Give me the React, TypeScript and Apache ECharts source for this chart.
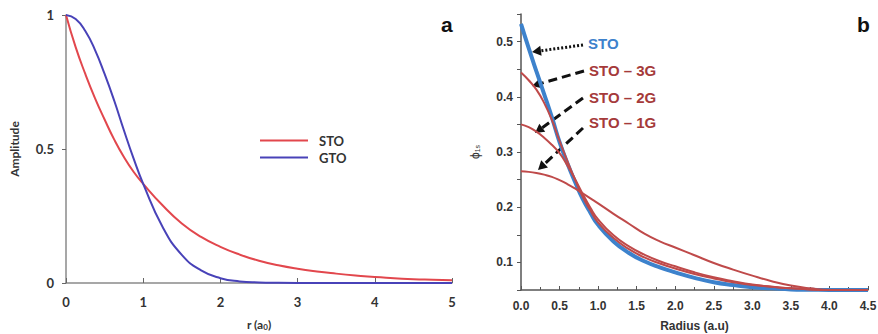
import React, { useEffect, useRef } from "react";
import * as echarts from "echarts";

// Panel a: radial amplitude, r in a0
const rA = [0, 0.125, 0.25, 0.375, 0.5, 0.625, 0.75, 0.875, 1, 1.25, 1.5, 1.75, 2, 2.25, 2.5, 2.75, 3, 3.25, 3.5, 3.75, 4, 4.25, 4.5, 4.75, 5];
const stoA = [1, 0.88, 0.78, 0.69, 0.61, 0.535, 0.47, 0.415, 0.37, 0.29, 0.222, 0.172, 0.135, 0.106, 0.083, 0.066, 0.053, 0.043, 0.035, 0.028, 0.022, 0.018, 0.014, 0.012, 0.01];
const gtoA = [1, 0.985, 0.94, 0.87, 0.78, 0.68, 0.57, 0.465, 0.37, 0.21, 0.105, 0.047, 0.018, 0.006, 0.002, 0.0005, 0, 0, 0, 0, 0, 0, 0, 0, 0];

// Panel b: phi_1s vs radius (a.u)
const rB = [0, 0.1, 0.2, 0.3, 0.4, 0.5, 0.6, 0.7, 0.8, 0.9, 1.0, 1.2, 1.4, 1.6, 1.8, 2.0, 2.25, 2.5, 2.75, 3.0, 3.25, 3.5, 3.75, 4.0, 4.25, 4.5];
const stoB = [0.532, 0.488, 0.446, 0.405, 0.363, 0.318, 0.28, 0.246, 0.215, 0.19, 0.168, 0.138, 0.117, 0.102, 0.091, 0.082, 0.072, 0.064, 0.059, 0.055, 0.053, 0.051, 0.0505, 0.05, 0.05, 0.05];
const sto3g = [0.444, 0.43, 0.413, 0.389, 0.358, 0.32, 0.284, 0.25, 0.219, 0.194, 0.172, 0.144, 0.124, 0.109, 0.098, 0.089, 0.079, 0.071, 0.064, 0.059, 0.056, 0.053, 0.051, 0.05, 0.05, 0.05];
const sto2g = [0.35, 0.345, 0.337, 0.326, 0.313, 0.298, 0.276, 0.251, 0.224, 0.199, 0.178, 0.149, 0.129, 0.114, 0.102, 0.093, 0.082, 0.073, 0.066, 0.06, 0.056, 0.053, 0.051, 0.05, 0.05, 0.05];
const sto1g = [0.265, 0.264, 0.262, 0.259, 0.255, 0.249, 0.242, 0.234, 0.225, 0.216, 0.207, 0.188, 0.17, 0.152, 0.138, 0.127, 0.113, 0.099, 0.087, 0.076, 0.066, 0.058, 0.053, 0.05, 0.05, 0.05];

const labelsB = ["STO", "STO \u2013 3G", "STO \u2013 2G", "STO \u2013 1G"];

const pairs = (xs: number[], ys: number[]) => xs.map((x, i) => [x, ys[i]]);

function arrow(x1: number, y1: number, x2: number, y2: number, dash: number[]) {
  const dx = x2 - x1, dy = y2 - y1;
  const L = Math.hypot(dx, dy);
  const ux = dx / L, uy = dy / L;
  const hl = 9, hw = 5;
  const bx = x2 - ux * hl, by = y2 - uy * hl;
  return [
    { type: "line", shape: { x1, y1, x2: bx, y2: by }, style: { stroke: "#111", lineWidth: 3, lineDash: dash } },
    {
      type: "polygon",
      shape: { points: [[x2, y2], [bx - uy * hw, by + ux * hw], [bx + uy * hw, by - ux * hw]] },
      style: { fill: "#111" },
    },
  ];
}

export default function App() {
  const ref = useRef<HTMLDivElement>(null);
  useEffect(() => {
    const chart = echarts.init(ref.current!, undefined, { renderer: "svg" });
    const fa = "Lato, 'Open Sans', sans-serif";
    const fb = "'Liberation Sans', Arial, sans-serif";
    const redA = "#e2474d";
    const blueA = "#4842b8";
    const redB = "#bf4a4a";
    const blueB = "#3d82cc";
    const textRed = "#a53a3a";
    chart.setOption({
      animation: false,
      backgroundColor: "#fff",
      grid: [
        { left: 66, top: 15, width: 386, height: 268, outerBoundsMode: "none", containLabel: false },
        { left: 521, top: 14, width: 347, height: 276, outerBoundsMode: "none", containLabel: false },
      ],
      legend: {
        data: ["STO", "GTO"],
        orient: "vertical",
        left: 255,
        top: 129,
        icon: "rect",
        itemWidth: 48,
        itemHeight: 2,
        itemGap: 4,
        textStyle: { fontFamily: fa, fontWeight: "bold", fontSize: 13, color: "#333", padding: [0, 0, 0, 6] },
      },
      xAxis: [
        {
          gridIndex: 0, type: "value", min: 0, max: 5, interval: 1,
          axisLine: { lineStyle: { color: "#8a8a8a", width: 1.5 } },
          axisTick: { inside: true, length: 5, lineStyle: { color: "#666" } },
          splitLine: { show: false },
          axisLabel: { fontFamily: fa, fontWeight: "bold", fontSize: 13, color: "#333", margin: 12 },
          name: "{n|r (a}{s|0}{n|)}",
          nameLocation: "middle",
          nameGap: 35,
          nameTextStyle: {
            rich: {
              n: { fontFamily: fa, fontWeight: "bold", fontSize: 12, color: "#333" },
              s: { fontFamily: fa, fontWeight: "bold", fontSize: 8, color: "#333", verticalAlign: "bottom", padding: [5, 0, 0, 0] },
            },
          },
        },
        {
          gridIndex: 1, type: "value", min: 0, max: 4.5, interval: 0.5,
          axisLine: { lineStyle: { color: "#555", width: 1.5 } },
          axisTick: { inside: true, length: 4, lineStyle: { color: "#555" } },
          minorTick: { show: true, splitNumber: 2, length: 3, lineStyle: { color: "#555" } },
          splitLine: { show: false },
          axisLabel: { fontFamily: fb, fontWeight: "bold", fontSize: 12, color: "#333", margin: 10, formatter: (v: number) => v.toFixed(1) },
          name: "Radius (a.u)",
          nameLocation: "middle",
          nameGap: 30,
          nameTextStyle: { fontFamily: fb, fontWeight: "bold", fontSize: 12, color: "#333" },
        },
      ],
      yAxis: [
        {
          gridIndex: 0, type: "value", min: 0, max: 1, interval: 0.5,
          axisLine: { show: true, lineStyle: { color: "#8a8a8a", width: 1.5 } },
          axisTick: { show: true, length: 4, lineStyle: { color: "#666" } },
          splitLine: { show: false },
          axisLabel: { fontFamily: fa, fontWeight: "bold", fontSize: 13, color: "#333", margin: 12, formatter: (v: number) => String(v) },
          name: "Amplitude",
          nameLocation: "middle",
          nameGap: 46,
          nameRotate: 90,
          nameTextStyle: { fontFamily: fa, fontWeight: "bold", fontSize: 12, color: "#333" },
        },
        {
          gridIndex: 1, type: "value", min: 0.05, max: 0.55, interval: 0.05,
          axisLine: { show: true, lineStyle: { color: "#555", width: 1.5 } },
          axisTick: { show: true, length: 4, lineStyle: { color: "#555" } },
          splitLine: { show: false },
          axisLabel: {
            fontFamily: fb, fontWeight: "bold", fontSize: 12, color: "#333", margin: 8,
            formatter: (v: number) => (Math.round(v * 100) % 10 === 0 ? v.toFixed(1) : ""),
          },
          name: "{n|\u03d5}{s|1s}",
          nameLocation: "middle",
          nameGap: 40,
          nameRotate: 90,
          nameTextStyle: {
            rich: {
              n: { fontFamily: fb, fontSize: 12, color: "#333" },
              s: { fontFamily: fb, fontSize: 7, color: "#333", verticalAlign: "bottom", padding: [5, 0, 0, 0] },
            },
          },
        },
      ],
      series: [
        { name: "STO", type: "line", xAxisIndex: 0, yAxisIndex: 0, data: pairs(rA, stoA), smooth: 0.5, showSymbol: false, lineStyle: { color: redA, width: 2 }, itemStyle: { color: redA } },
        { name: "GTO", type: "line", xAxisIndex: 0, yAxisIndex: 0, data: pairs(rA, gtoA), smooth: 0.5, showSymbol: false, lineStyle: { color: blueA, width: 2 }, itemStyle: { color: blueA } },
        { name: labelsB[0], id: "b0", type: "line", xAxisIndex: 1, yAxisIndex: 1, data: pairs(rB, stoB), smooth: 0.5, showSymbol: false, lineStyle: { color: blueB, width: 4 } },
        { name: labelsB[1], id: "b1", type: "line", xAxisIndex: 1, yAxisIndex: 1, data: pairs(rB, sto3g), smooth: 0.5, showSymbol: false, lineStyle: { color: redB, width: 2 } },
        { name: labelsB[2], id: "b2", type: "line", xAxisIndex: 1, yAxisIndex: 1, data: pairs(rB, sto2g), smooth: 0.5, showSymbol: false, lineStyle: { color: redB, width: 2 } },
        { name: labelsB[3], id: "b3", type: "line", xAxisIndex: 1, yAxisIndex: 1, data: pairs(rB, sto1g), smooth: 0.5, showSymbol: false, lineStyle: { color: redB, width: 2 } },
      ],
      graphic: [
        { type: "text", left: 441, top: 14, style: { text: "a", font: "bold 21px 'Liberation Sans', Arial", fill: "#111" } },
        { type: "text", left: 857, top: 14, style: { text: "b", font: "bold 21px 'Liberation Sans', Arial", fill: "#111" } },
        { type: "text", x: 588, y: 43, style: { text: labelsB[0], font: "bold 15px 'Liberation Sans', Arial", fill: blueB, verticalAlign: "middle" } },
        { type: "text", x: 589, y: 70, style: { text: labelsB[1], font: "bold 15px 'Liberation Sans', Arial", fill: textRed, verticalAlign: "middle" } },
        { type: "text", x: 589, y: 97, style: { text: labelsB[2], font: "bold 15px 'Liberation Sans', Arial", fill: textRed, verticalAlign: "middle" } },
        { type: "text", x: 589, y: 122, style: { text: labelsB[3], font: "bold 15px 'Liberation Sans', Arial", fill: textRed, verticalAlign: "middle" } },
        ...arrow(583, 45, 532, 52, [2, 2]),
        ...arrow(584, 71, 532, 86, [9, 5]),
        ...arrow(583, 98, 535, 133, [9, 5]),
        ...arrow(583, 128, 538, 170, [9, 5]),
      ],
    });
    return () => chart.dispose();
  }, []);
  return <div ref={ref} style={{ position: "fixed", left: 0, top: 0, width: 878, height: 334 }} />;
}
